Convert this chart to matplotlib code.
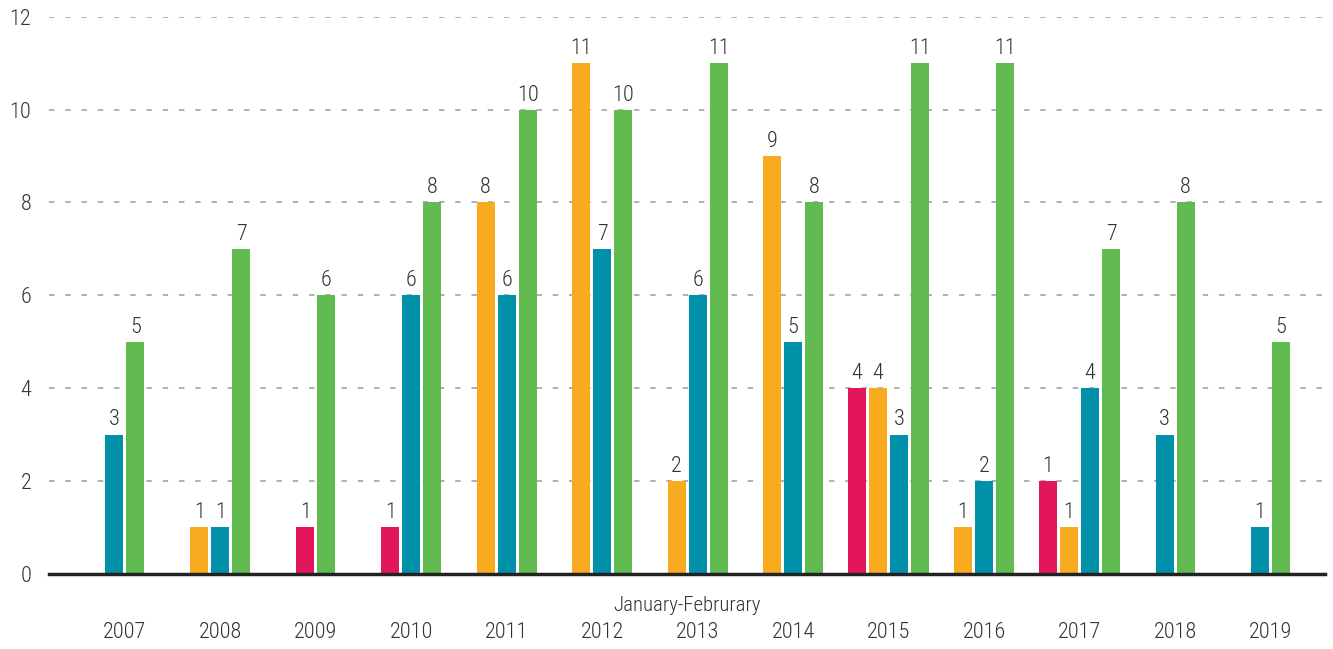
import matplotlib
matplotlib.use('Agg')
import matplotlib.pyplot as plt
from matplotlib import font_manager

names = {f.name for f in font_manager.fontManager.ttflist}
fam = [n for n in ['Roboto Condensed', 'Liberation Sans Narrow', 'DejaVu Sans Condensed', 'DejaVu Sans'] if n in names]
plt.rcParams['font.family'] = fam
plt.rcParams['font.weight'] = 'light'

years = ['2007', '2008', '2009', '2010', '2011', '2012', '2013',
         '2014', '2015', '2016', '2017', '2018', '2019']
pink = [0, 0, 1, 1, 0, 0, 0, 0, 4, 0, 2, 0, 0]
pink_labels = [0, 0, 1, 1, 0, 0, 0, 0, 4, 0, 1, 0, 0]
orange = [0, 1, 0, 0, 8, 11, 2, 9, 4, 1, 1, 0, 0]
teal = [3, 1, 0, 6, 6, 7, 6, 5, 3, 2, 4, 3, 1]
green = [5, 7, 6, 8, 10, 10, 11, 8, 11, 11, 7, 8, 5]

series = [(pink, pink_labels, '#e3165b'),
          (orange, orange, '#f9ab1f'),
          (teal, teal, '#0091a9'),
          (green, green, '#62bb51')]

width = 0.19
step = 0.22
txt = '#333333'

fig = plt.figure(figsize=(13.33, 6.49), dpi=100)
ax = fig.add_axes([0.037, 0.116, 0.957, 0.858])

for i, yr in enumerate(years):
    # only non-zero bars are drawn, centred on the year
    shown = [(v[i], lab[i], c) for v, lab, c in series if v[i] > 0]
    n = len(shown)
    for k, (v, lab, c) in enumerate(shown):
        x = i + (k - (n - 1) / 2) * step
        ax.bar(x, v, width=width, color=c, zorder=3)
        ax.text(x, v + 0.09, str(lab), ha='center', va='bottom',
                fontsize=16, color=txt, zorder=4)

ax.set_ylim(0, 12)
ax.set_xlim(-0.79, 12.57)
ax.set_yticks(range(0, 13, 2))
ax.set_xticks(range(len(years)))
ax.set_xticklabels(years)
ax.tick_params(axis='both', length=0, labelsize=16, colors=txt)
ax.tick_params(axis='x', pad=35)
ax.tick_params(axis='y', pad=13)
ax.grid(axis='y', color='#aaaaaa', linestyle=(0, (3, 6)), linewidth=1.3, zorder=0)
for s in ['top', 'right', 'left']:
    ax.spines[s].set_visible(False)
ax.spines['bottom'].set_color('#222222')
ax.spines['bottom'].set_linewidth(2.5)
ax.spines['bottom'].set_zorder(5)
ax.set_xlabel('January-Februrary', fontsize=15, fontweight='light',
              color=txt, labelpad=-34)

fig.savefig('out.png', dpi=100)
